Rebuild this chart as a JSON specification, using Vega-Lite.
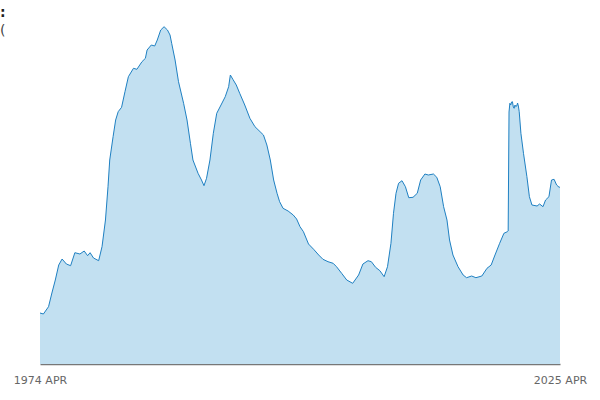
{
  "$schema": "https://vega.github.io/schema/vega-lite/v6.json",
  "autosize": {"type": "none"},
  "width": 520,
  "height": 340,
  "padding": {"left": 40, "top": 24, "right": 40, "bottom": 36},
  "background": "white",
  "title": {
    "text": ":",
    "subtitle": "(",
    "anchor": "start",
    "frame": "group",
    "dx": -40,
    "offset": -14,
    "font": "DejaVu Sans",
    "fontSize": 14,
    "fontWeight": "bold",
    "color": "#222222",
    "subtitleFont": "DejaVu Sans",
    "subtitleFontSize": 14,
    "subtitleColor": "#444444",
    "subtitlePadding": 4
  },
  "data": {
    "values": [
      {"date": "1974-04-01", "value": 51},
      {"date": "1974-08-01", "value": 50},
      {"date": "1975-02-01", "value": 57.3},
      {"date": "1975-06-01", "value": 71},
      {"date": "1975-10-01", "value": 84},
      {"date": "1976-02-01", "value": 99},
      {"date": "1976-06-01", "value": 105},
      {"date": "1976-11-01", "value": 100},
      {"date": "1977-04-01", "value": 98.3},
      {"date": "1977-09-01", "value": 111.3},
      {"date": "1978-03-01", "value": 110},
      {"date": "1978-08-01", "value": 113},
      {"date": "1978-12-01", "value": 108.3},
      {"date": "1979-03-01", "value": 111.3},
      {"date": "1979-07-01", "value": 106},
      {"date": "1980-01-01", "value": 103.3},
      {"date": "1980-05-01", "value": 117.3},
      {"date": "1980-09-01", "value": 144},
      {"date": "1980-12-01", "value": 177.3},
      {"date": "1981-02-01", "value": 204},
      {"date": "1981-06-01", "value": 227.3},
      {"date": "1981-09-01", "value": 244},
      {"date": "1981-12-01", "value": 252.3},
      {"date": "1982-04-01", "value": 256.7},
      {"date": "1982-08-01", "value": 272.3},
      {"date": "1982-12-01", "value": 287.3},
      {"date": "1983-06-01", "value": 295.7},
      {"date": "1983-10-01", "value": 294.7},
      {"date": "1984-04-01", "value": 302.3},
      {"date": "1984-08-01", "value": 305.7},
      {"date": "1984-10-01", "value": 314},
      {"date": "1985-03-01", "value": 319},
      {"date": "1985-07-01", "value": 318},
      {"date": "1985-10-01", "value": 324},
      {"date": "1986-02-01", "value": 334},
      {"date": "1986-06-01", "value": 337.3},
      {"date": "1986-10-01", "value": 334},
      {"date": "1987-01-01", "value": 329},
      {"date": "1987-03-01", "value": 320.7},
      {"date": "1987-07-01", "value": 304},
      {"date": "1987-11-01", "value": 282.3},
      {"date": "1988-05-01", "value": 260.7},
      {"date": "1988-09-01", "value": 244},
      {"date": "1989-01-01", "value": 220.7},
      {"date": "1989-04-01", "value": 204},
      {"date": "1989-10-01", "value": 190.7},
      {"date": "1990-02-01", "value": 184},
      {"date": "1990-05-01", "value": 178.3},
      {"date": "1990-08-01", "value": 185.7},
      {"date": "1990-12-01", "value": 204},
      {"date": "1991-04-01", "value": 230.7},
      {"date": "1991-08-01", "value": 250.7},
      {"date": "1992-01-01", "value": 259},
      {"date": "1992-06-01", "value": 267.3},
      {"date": "1992-10-01", "value": 277.3},
      {"date": "1992-12-01", "value": 289},
      {"date": "1993-03-01", "value": 284.7},
      {"date": "1993-07-01", "value": 279},
      {"date": "1993-11-01", "value": 270.7},
      {"date": "1994-05-01", "value": 259},
      {"date": "1994-11-01", "value": 245.7},
      {"date": "1995-05-01", "value": 237.3},
      {"date": "1995-11-01", "value": 232.3},
      {"date": "1996-03-01", "value": 229},
      {"date": "1996-07-01", "value": 219},
      {"date": "1996-11-01", "value": 204},
      {"date": "1997-03-01", "value": 184},
      {"date": "1997-07-01", "value": 170.7},
      {"date": "1997-10-01", "value": 162.3},
      {"date": "1998-02-01", "value": 155.7},
      {"date": "1998-08-01", "value": 153},
      {"date": "1999-02-01", "value": 149},
      {"date": "1999-06-01", "value": 145},
      {"date": "1999-10-01", "value": 137.3},
      {"date": "2000-02-01", "value": 132.3},
      {"date": "2000-08-01", "value": 120},
      {"date": "2001-02-01", "value": 114.7},
      {"date": "2001-08-01", "value": 109},
      {"date": "2002-01-01", "value": 104.7},
      {"date": "2002-07-01", "value": 102.3},
      {"date": "2003-01-01", "value": 100.7},
      {"date": "2003-05-01", "value": 97.3},
      {"date": "2003-11-01", "value": 90.7},
      {"date": "2004-05-01", "value": 84},
      {"date": "2004-12-01", "value": 80.7},
      {"date": "2005-07-01", "value": 89},
      {"date": "2005-12-01", "value": 100},
      {"date": "2006-06-01", "value": 103.3},
      {"date": "2006-10-01", "value": 102.3},
      {"date": "2007-03-01", "value": 96.7},
      {"date": "2007-08-01", "value": 93.3},
      {"date": "2008-01-01", "value": 87.3},
      {"date": "2008-05-01", "value": 97.3},
      {"date": "2008-09-01", "value": 120.7},
      {"date": "2008-12-01", "value": 150.7},
      {"date": "2009-03-01", "value": 170.7},
      {"date": "2009-06-01", "value": 180.7},
      {"date": "2009-10-01", "value": 183.3},
      {"date": "2010-02-01", "value": 177.3},
      {"date": "2010-06-01", "value": 166.3},
      {"date": "2010-11-01", "value": 166.7},
      {"date": "2011-04-01", "value": 170.7},
      {"date": "2011-08-01", "value": 184},
      {"date": "2012-01-01", "value": 190},
      {"date": "2012-05-01", "value": 189},
      {"date": "2012-11-01", "value": 190},
      {"date": "2013-03-01", "value": 186.7},
      {"date": "2013-07-01", "value": 177.3},
      {"date": "2013-11-01", "value": 157.3},
      {"date": "2014-03-01", "value": 144},
      {"date": "2014-06-01", "value": 124},
      {"date": "2014-10-01", "value": 109},
      {"date": "2015-04-01", "value": 97.3},
      {"date": "2015-10-01", "value": 89},
      {"date": "2016-02-01", "value": 86.3},
      {"date": "2016-08-01", "value": 88},
      {"date": "2017-01-01", "value": 86.3},
      {"date": "2017-08-01", "value": 88},
      {"date": "2018-02-01", "value": 95.7},
      {"date": "2018-07-01", "value": 99},
      {"date": "2018-11-01", "value": 108},
      {"date": "2019-05-01", "value": 120.7},
      {"date": "2019-10-01", "value": 130.7},
      {"date": "2020-02-01", "value": 132.3},
      {"date": "2020-03-01", "value": 133},
      {"date": "2020-04-01", "value": 252},
      {"date": "2020-05-01", "value": 260.7},
      {"date": "2020-06-01", "value": 259},
      {"date": "2020-07-01", "value": 262},
      {"date": "2020-08-01", "value": 262.3},
      {"date": "2020-09-01", "value": 257},
      {"date": "2020-10-01", "value": 255.7},
      {"date": "2020-11-01", "value": 259},
      {"date": "2020-12-01", "value": 257.3},
      {"date": "2021-01-01", "value": 258},
      {"date": "2021-02-01", "value": 261},
      {"date": "2021-03-01", "value": 258},
      {"date": "2021-04-01", "value": 252.3},
      {"date": "2021-06-01", "value": 230.7},
      {"date": "2021-09-01", "value": 210.7},
      {"date": "2022-01-01", "value": 187.3},
      {"date": "2022-04-01", "value": 167.3},
      {"date": "2022-07-01", "value": 159},
      {"date": "2023-01-01", "value": 158},
      {"date": "2023-04-01", "value": 160},
      {"date": "2023-08-01", "value": 157.3},
      {"date": "2023-11-01", "value": 164},
      {"date": "2024-03-01", "value": 167.3},
      {"date": "2024-06-01", "value": 184},
      {"date": "2024-09-01", "value": 184.7},
      {"date": "2024-12-01", "value": 179},
      {"date": "2025-03-01", "value": 176.7},
      {"date": "2025-04-01", "value": 177}
    ]
  },
  "mark": {
    "type": "area",
    "color": "#c2e0f1",
    "opacity": 1,
    "line": {"color": "#1f80c2", "strokeWidth": 1}
  },
  "encoding": {
    "x": {
      "field": "date",
      "type": "temporal",
      "scale": {"domain": [{"year": 1974, "month": 4, "date": 1, "utc": true}, {"year": 2025, "month": 4, "date": 1, "utc": true}]},
      "axis": {
        "title": null,
        "grid": false,
        "ticks": false,
        "domainColor": "#777777",
        "domainWidth": 1.5,
        "values": [{"year": 1974, "month": 4, "date": 1, "utc": true}, {"year": 2025, "month": 4, "date": 1, "utc": true}],
        "labelExpr": "upper(utcFormat(datum.value, '%Y %b'))",
        "labelFont": "DejaVu Sans",
        "labelFontSize": 11,
        "labelColor": "#666666",
        "labelPadding": 10,
        "labelOverlap": false,
        "labelFlush": false
      }
    },
    "y": {
      "field": "value",
      "type": "quantitative",
      "scale": {"domain": [0, 340], "zero": true, "nice": false},
      "axis": null
    }
  },
  "config": {
    "view": {"stroke": null}
  }
}
